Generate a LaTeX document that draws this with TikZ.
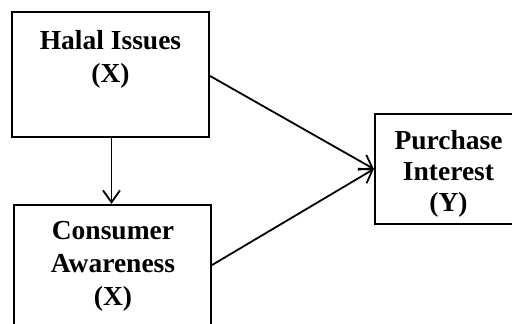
\documentclass[tikz,border=0pt]{standalone}
\usepackage{fontspec}
\setmainfont{Liberation Serif}
\usetikzlibrary{arrows.meta}
\begin{document}
\begin{tikzpicture}[x=1pt,y=-1pt,
  box/.style={draw=black,line width=2.2pt,fill=white,inner sep=0pt},
  lbl/.style={anchor=north,inner sep=0pt,align=center,font=\bfseries\fontsize{27.5}{33}\selectfont},
  conn/.style={draw=black,line width=1.8pt,-{Straight Barb[length=12pt,width=17pt,line width=1.8pt]}}]
\useasboundingbox[fill=white] (0,0) rectangle (512,324);
\node[box,minimum width=197pt,minimum height=125pt] (h) at (110.5,74.5) {};
\node[box,minimum width=197pt,minimum height=135pt] (c) at (112.5,272.5) {};
\node[box,minimum width=155pt,minimum height=110pt] (p) at (452.5,169) {};
\node[lbl] (ht) at (110.5,30.5) {Halal Issues\\(X)};
\node[lbl] (ct) at (113,221) {Consumer\\Awareness\\(X)};
\node[lbl,font=\bfseries\fontsize{27.5}{31}\selectfont] (pt) at (448.5,130.5) {Purchase\\Interest\\(Y)};
\draw[conn] ([yshift=-1.5pt]h.east) -- (p.west);
\draw[conn] ([yshift=7.5pt]c.east) -- (p.west);
\draw[conn] ([xshift=1pt]h.south) -- ([xshift=-1pt]c.north);
\end{tikzpicture}
\end{document}
